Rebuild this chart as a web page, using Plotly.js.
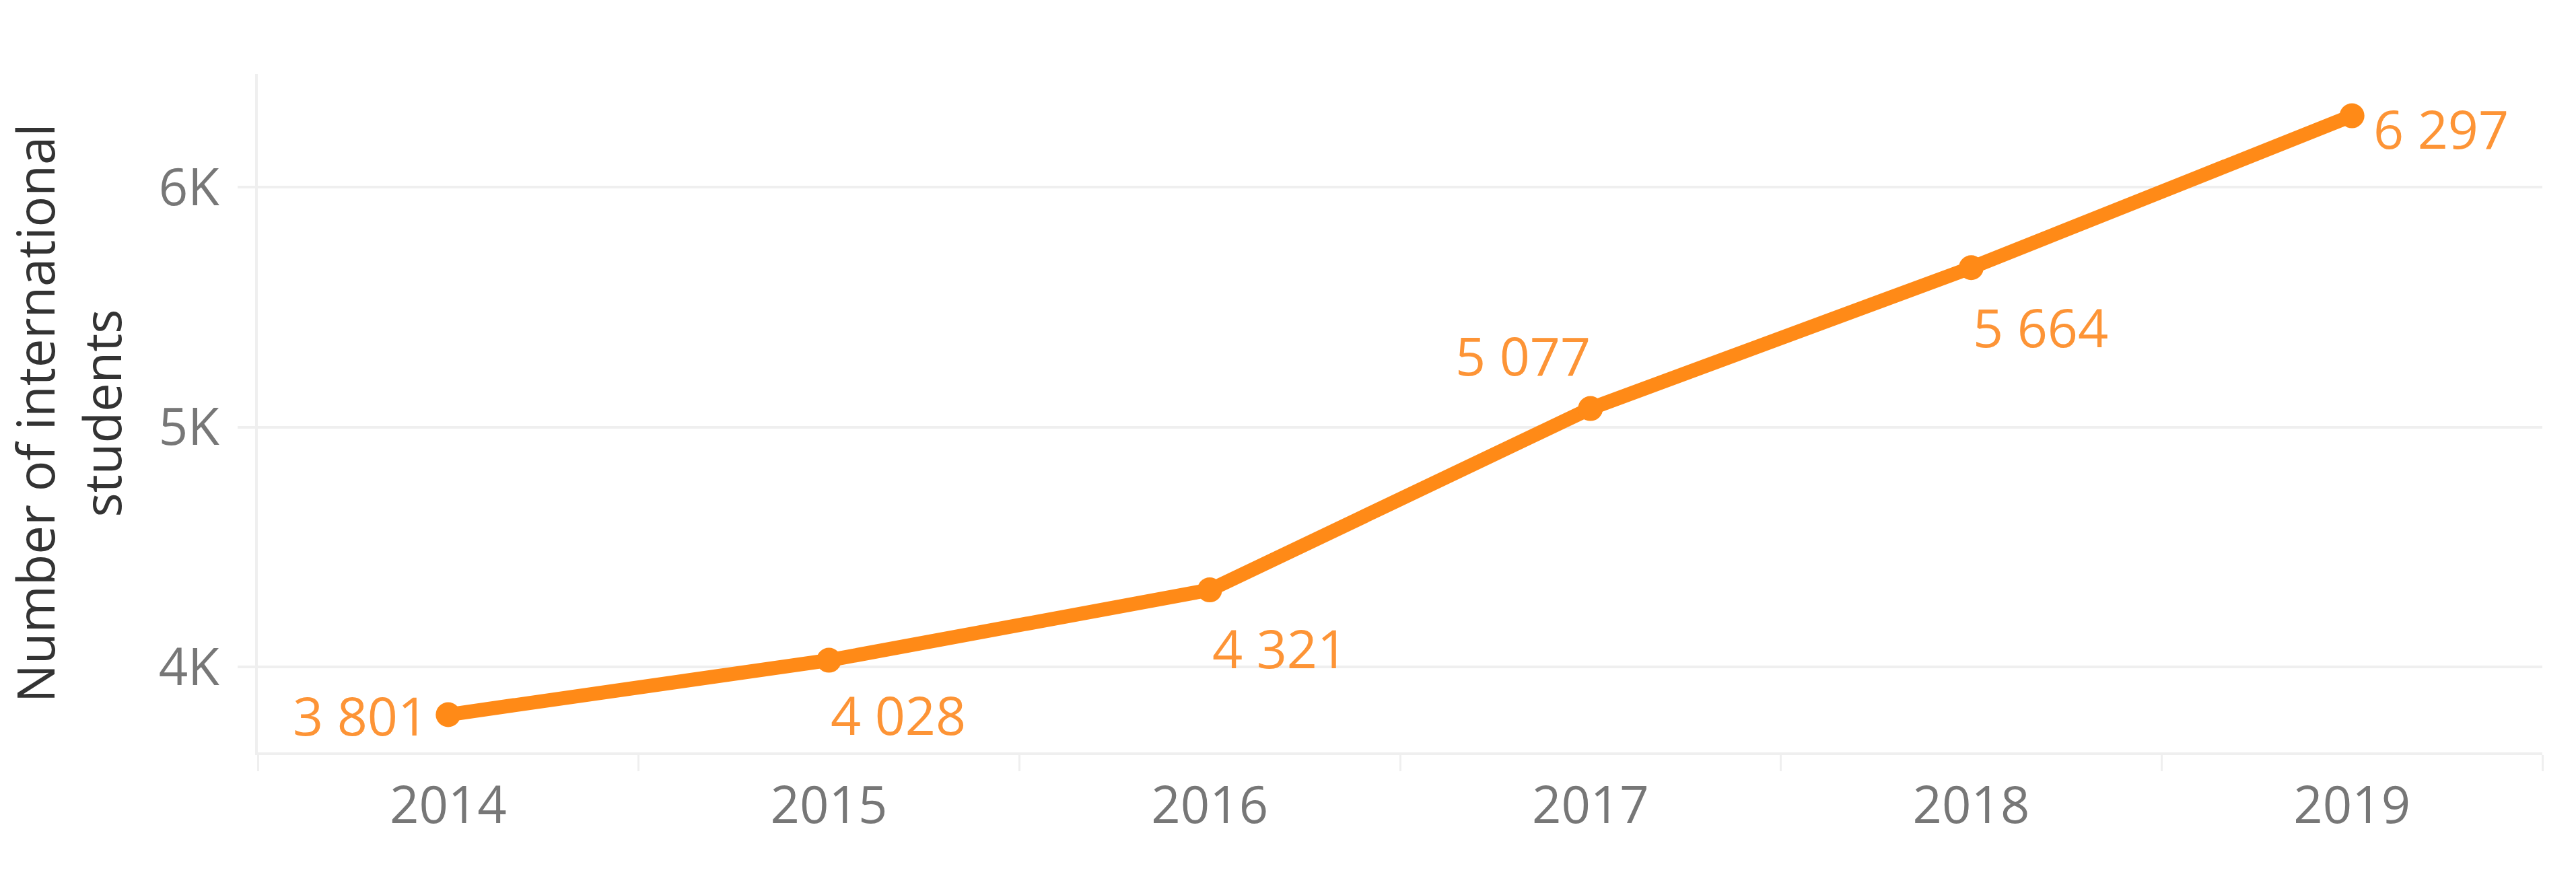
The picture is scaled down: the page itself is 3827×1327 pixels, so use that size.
<!DOCTYPE html>
<html>
<head>
<meta charset="utf-8">
<script src="https://cdn.plot.ly/plotly-3.0.1.min.js"></script>
<style>
  html, body { margin: 0; padding: 0; background: #fff; }
  #chart { width: 3827px; height: 1327px; }
</style>
</head>
<body>
<div id="chart"></div>
<script>
// Data
var years = ["2014", "2015", "2016", "2017", "2018", "2019"];
var students = [3801, 4028, 4321, 5077, 5664, 6297];
var studentLabels = ["3 801", "4 028", "4 321", "5 077", "5 664", "6 297"];
var yTickVals = [4000, 5000, 6000];
var yTickText = ["4K", "5K", "6K"];

var orange = "#ff8a17";
var faint = "#efefef";

// where each value label sits around its point (anchor + pixel shift)
var labelAnchor = ["right", "left", "left", "right", "left", "left"];
var labelDx = [-28, 0, 2, 2, 0, 30];
var labelDy = [0, -80, -86, 80, -88, -18];

var data = [{
    x: years,
    y: students,
    mode: "lines+markers",
    type: "scatter",
    line: {color: orange, width: 21},
    marker: {color: orange, size: 37},
    cliponaxis: false,
    hoverinfo: "none"
}];

// value labels, category axis wants the category index here
var labels = years.map(function(yr, i) {
    return {
        x: i,
        y: students[i],
        xref: "x",
        yref: "y",
        text: studentLabels[i],
        showarrow: false,
        xanchor: labelAnchor[i],
        yanchor: "middle",
        xshift: labelDx[i],
        yshift: labelDy[i],
        font: {family: "Open Sans", size: 79, color: "#fd9436"}
    };
});

var layout = {
    width: 3827,
    height: 1327,
    margin: {l: 383, r: 50, t: 110, b: 209},
    paper_bgcolor: "#ffffff",
    plot_bgcolor: "#ffffff",
    showlegend: false,
    font: {family: "Open Sans", size: 76, color: "#777777"},
    annotations: labels,
    xaxis: {
        type: "category",
        range: [-0.5, 5.5],
        showgrid: false,
        zeroline: false,
        showline: true,
        linecolor: faint,
        linewidth: 4,
        ticks: "outside",
        tickson: "boundaries",
        ticklen: 24,
        tickwidth: 3,
        tickcolor: faint,
        ticklabelstandoff: 10,
        tickfont: {family: "Open Sans", size: 76, color: "#777777"}
    },
    yaxis: {
        range: [3644, 6471],
        tickvals: yTickVals,
        ticktext: yTickText,
        showgrid: true,
        gridcolor: faint,
        gridwidth: 4,
        zeroline: false,
        showline: true,
        linecolor: faint,
        linewidth: 4,
        ticks: "outside",
        ticklen: 26,
        tickwidth: 4,
        tickcolor: faint,
        ticklabelstandoff: 12,
        tickfont: {family: "Open Sans", size: 76, color: "#777777"},
        title: {
            text: "Number of international<br>students",
            font: {family: "Open Sans", size: 76, color: "#333333"},
            standoff: 60
        }
    }
};

Plotly.newPlot("chart", data, layout, {staticPlot: true});
</script>
</body>
</html>
